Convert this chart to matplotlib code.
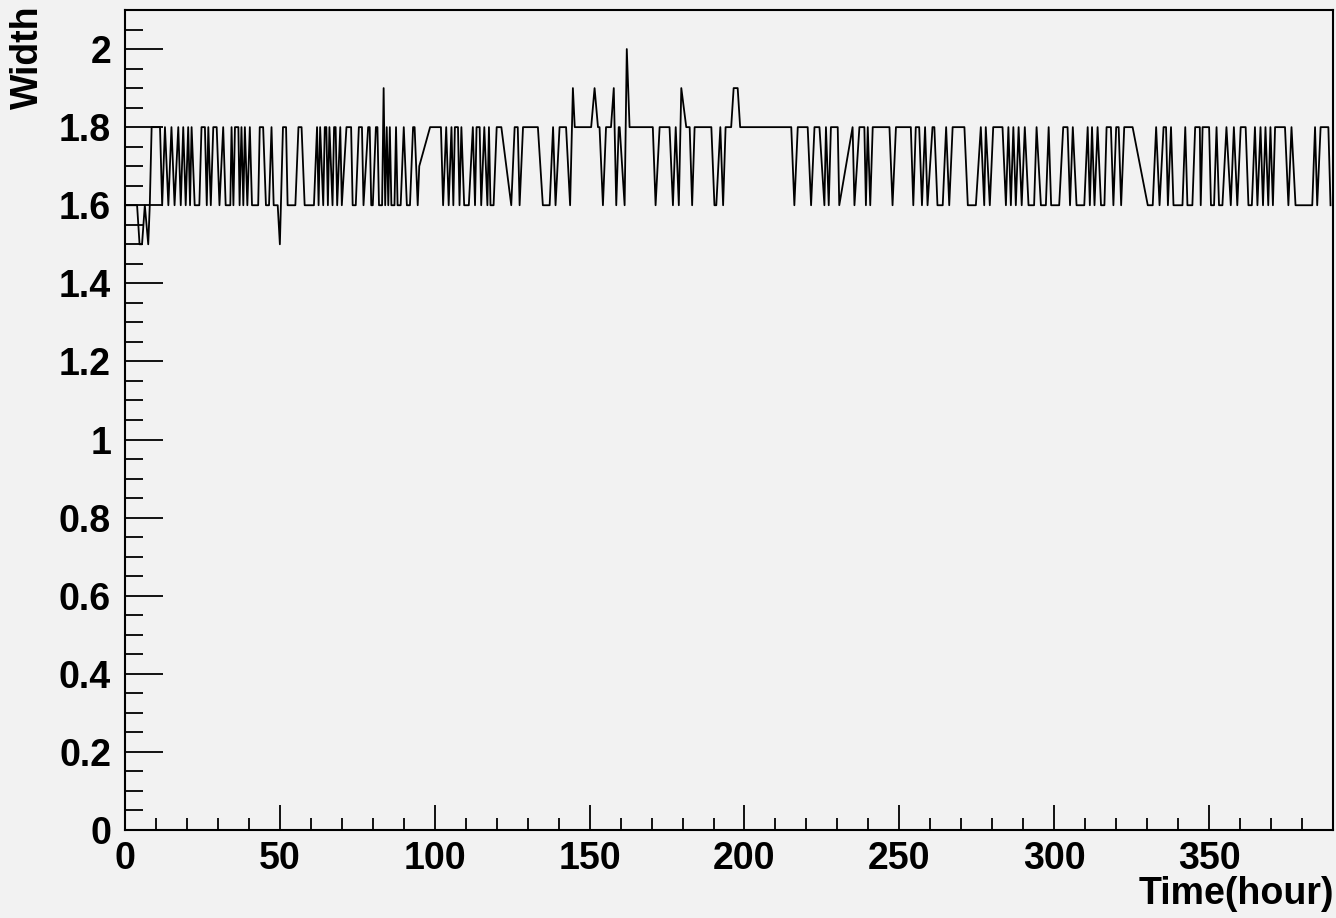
import matplotlib
matplotlib.use('Agg')
import matplotlib.pyplot as plt
from matplotlib.ticker import MultipleLocator, FormatStrFormatter

# time (hour) and width
hours = [0, 3.9, 4.7, 5.5, 6.4, 7.5, 8, 8.6, 11.3, 12, 12.9, 14, 15, 16, 17.2, 18, 18.8, 19.6,
         20.4, 21, 21.5, 22.5, 24, 24.7, 25.8, 26.4, 26.9, 27.7, 28.5, 29.6, 30.5, 31.7, 32.5,
         34, 34.4, 35, 35.5, 36.6, 37, 37.6, 38.2, 38.7, 39.5, 40.3, 41, 43, 43.5, 44.6, 45.5,
         46.5, 47.3, 48, 49.3, 50,
         51, 52, 52.5, 55, 56, 57, 58, 61, 62, 62.5, 63, 64, 64.5, 65, 65.5, 66, 67, 67.5, 68,
         68.5, 69.5, 70, 71.5, 73, 73.5, 74.5, 75.5, 76.5, 77, 78.5, 79, 79.5, 80, 81, 81.5, 82,
         83, 83.5, 84, 84.5, 85, 85.5, 86, 87, 87.5, 88, 89, 90, 91, 92, 93, 93.5, 94.5, 95,
         98.5, 102, 102.7, 103.7, 104.5, 105.4, 106, 106.5, 107.5, 108, 108.6, 109.5, 111,
         112.3, 113, 113.5, 114.5, 115, 116, 117, 117.5, 118, 119, 120, 121.5, 124.7, 125.8,
         126.8, 127.4, 128.5, 133.3, 134.9, 137.1, 138.2, 139, 140.3, 142.4, 143.7, 144.6,
         145.2, 150.5, 151.6, 152.7, 153.2, 154.3, 155.3, 156.9, 157.8, 158.6, 159.4, 159.7,
         161.3, 162, 162.9, 170.4, 171.3, 172.6, 175.8, 176.9, 177.8, 178.8, 179.6, 181.2,
         182.3, 183.1, 183.9, 189.3, 190.3, 190.9, 192.2, 193.1, 193.9, 195.7, 196.5, 197.8,
         198.6, 215.1, 216.1, 217.2, 220.4, 221.5, 222.6, 224.2, 225.8, 226.3, 227.2, 227.9,
         230.1, 230.6, 234.9, 235.5, 237.1, 238.7, 239.2, 239.8, 240.6, 241.4, 246.8, 247.8,
         248.9, 253.7, 254.5, 255.3, 256.4, 257.3, 258.3, 259.1, 260.7, 261.3, 262.3, 264,
         265.1, 266.1, 267.2, 271, 272.1, 274.7, 276.3, 277.4, 277.9, 279.2, 280.3, 283.3,
         284.4, 285.2, 286, 286.8, 287.6, 288.5, 289.5, 290.5, 291.7, 293.5, 294.3, 295.7,
         297.3, 298.2, 299, 301.6, 302.9, 304.3, 305.1, 306, 307.2, 309.7, 310.8, 311.5, 312.2,
         313, 314, 315.1, 316.2, 316.9, 318.3, 319.1, 320, 320.8, 321.6, 322.6, 325.3, 330.2,
         331.8, 332.9, 334, 335.3, 336.1, 336.7, 337.7, 338.5, 341.4, 342.3, 343, 344.6, 345.5,
         347, 347.3, 347.9, 350, 350.6, 351.6, 352.4, 353.2, 354.3, 355.6, 357, 358, 359.1,
         360.2, 361.8, 362.7, 363.8, 364.8, 365.6, 366.6, 367.4, 368.2, 369.1, 369.8, 370.6,
         371.3, 374.5, 375.6, 376.6, 377.9, 383.3, 384.2, 384.9, 386, 388.5, 389.2]

width = [1.6, 1.6, 1.5, 1.5, 1.6, 1.5, 1.6, 1.8, 1.8, 1.6, 1.8, 1.6, 1.8, 1.6, 1.8, 1.6, 1.8, 1.6,
         1.8, 1.6, 1.8, 1.6, 1.6, 1.8, 1.8, 1.6, 1.8, 1.6, 1.8, 1.8, 1.6, 1.8, 1.6,
         1.6, 1.8, 1.6, 1.8, 1.8, 1.6, 1.8, 1.6, 1.8, 1.6, 1.8, 1.6, 1.6, 1.8, 1.8, 1.6,
         1.6, 1.8, 1.6, 1.6, 1.5,
         1.8, 1.8, 1.6, 1.6, 1.8, 1.8, 1.6, 1.6, 1.8, 1.6, 1.8, 1.6, 1.8, 1.8, 1.6, 1.8, 1.6, 1.8, 1.8,
         1.6, 1.8, 1.6, 1.8, 1.8, 1.6, 1.6, 1.8, 1.8, 1.6, 1.8, 1.8, 1.6, 1.6, 1.8, 1.8, 1.6,
         1.6, 1.9, 1.6, 1.8, 1.6, 1.8, 1.6, 1.6, 1.8, 1.6, 1.6, 1.8, 1.6, 1.6, 1.8, 1.8, 1.6, 1.7,
         1.8, 1.8, 1.6, 1.8, 1.6, 1.8, 1.6, 1.8, 1.8, 1.6, 1.8, 1.6, 1.6,
         1.8, 1.6, 1.8, 1.8, 1.6, 1.8, 1.6, 1.8, 1.6, 1.6, 1.8, 1.8, 1.6, 1.8,
         1.8, 1.6, 1.8, 1.8, 1.6, 1.6, 1.8, 1.6, 1.8, 1.8, 1.6, 1.9,
         1.8, 1.8, 1.9, 1.8, 1.8, 1.6, 1.8, 1.8, 1.9, 1.6, 1.8, 1.8,
         1.6, 2.0, 1.8, 1.8, 1.6, 1.8, 1.8, 1.6, 1.8, 1.6, 1.9, 1.8,
         1.8, 1.6, 1.8, 1.8, 1.6, 1.6, 1.8, 1.6, 1.8, 1.8, 1.9, 1.9,
         1.8, 1.8, 1.6, 1.8, 1.8, 1.6, 1.8, 1.8, 1.6, 1.8, 1.6, 1.8,
         1.8, 1.6, 1.8, 1.6, 1.8, 1.8, 1.6, 1.8, 1.6, 1.8, 1.8, 1.6,
         1.8, 1.8, 1.6, 1.8, 1.8, 1.6, 1.8, 1.6, 1.8, 1.8, 1.6, 1.6,
         1.8, 1.6, 1.8, 1.8, 1.6, 1.6, 1.8, 1.6, 1.8, 1.6, 1.8, 1.8,
         1.6, 1.8, 1.6, 1.8, 1.6, 1.8, 1.6, 1.8, 1.6, 1.6, 1.8, 1.6,
         1.6, 1.8, 1.6, 1.6, 1.8, 1.8, 1.6, 1.8, 1.6, 1.6, 1.8, 1.6, 1.8,
         1.6, 1.8, 1.6, 1.6, 1.8, 1.8, 1.6, 1.8, 1.8, 1.6, 1.8, 1.8, 1.6,
         1.6, 1.8, 1.6, 1.8, 1.8, 1.6, 1.8, 1.6, 1.6, 1.8, 1.6, 1.6, 1.8,
         1.8, 1.6, 1.8, 1.8, 1.6, 1.6, 1.8, 1.6, 1.6, 1.8, 1.6, 1.8, 1.6,
         1.8, 1.8, 1.6, 1.6, 1.8, 1.6, 1.8, 1.6, 1.8, 1.6, 1.8, 1.6,
         1.8, 1.8, 1.6, 1.8, 1.6, 1.6, 1.8, 1.6, 1.8, 1.8, 1.6]

bg = '#f2f2f2'
plt.rcParams['font.family'] = ['Liberation Sans', 'DejaVu Sans']
plt.rcParams['font.weight'] = 'bold'

fig = plt.figure(figsize=(13.36, 9.18), dpi=100, facecolor=bg)
ax = fig.add_axes([125/1336, 1-830/918, (1333-125)/1336, (830-10)/918])
ax.set_facecolor(bg)

ax.plot(hours, width, color='black', lw=1.3)

ax.set_xlim(0, 390)
ax.set_ylim(0, 2.1)

ax.xaxis.set_major_locator(MultipleLocator(50))
ax.xaxis.set_minor_locator(MultipleLocator(10))
ax.yaxis.set_major_locator(MultipleLocator(0.2))
ax.yaxis.set_minor_locator(MultipleLocator(0.05))
ax.xaxis.set_major_formatter(FormatStrFormatter('%g'))
ax.yaxis.set_major_formatter(FormatStrFormatter('%g'))

ax.tick_params(axis='both', which='both', direction='in', top=False, right=False,
               labelsize=27, color='black', width=1.3)
ax.tick_params(axis='x', which='major', length=18, pad=8)
ax.tick_params(axis='x', which='minor', length=9)
ax.tick_params(axis='y', which='major', length=27, pad=10)
ax.tick_params(axis='y', which='minor', length=13)
for lab in ax.get_xticklabels() + ax.get_yticklabels():
    lab.set_fontweight('bold')

for s in ax.spines.values():
    s.set_linewidth(1.5)

fig.text(28/1336, 1-5/918, 'Width', rotation=90, ha='center', va='top',
         fontsize=27, fontweight='bold')
fig.text(1334/1336, 1-876/918, 'Time(hour)', ha='right', va='top',
         fontsize=27, fontweight='bold')

fig.savefig('out.png', dpi=100, facecolor=bg)
